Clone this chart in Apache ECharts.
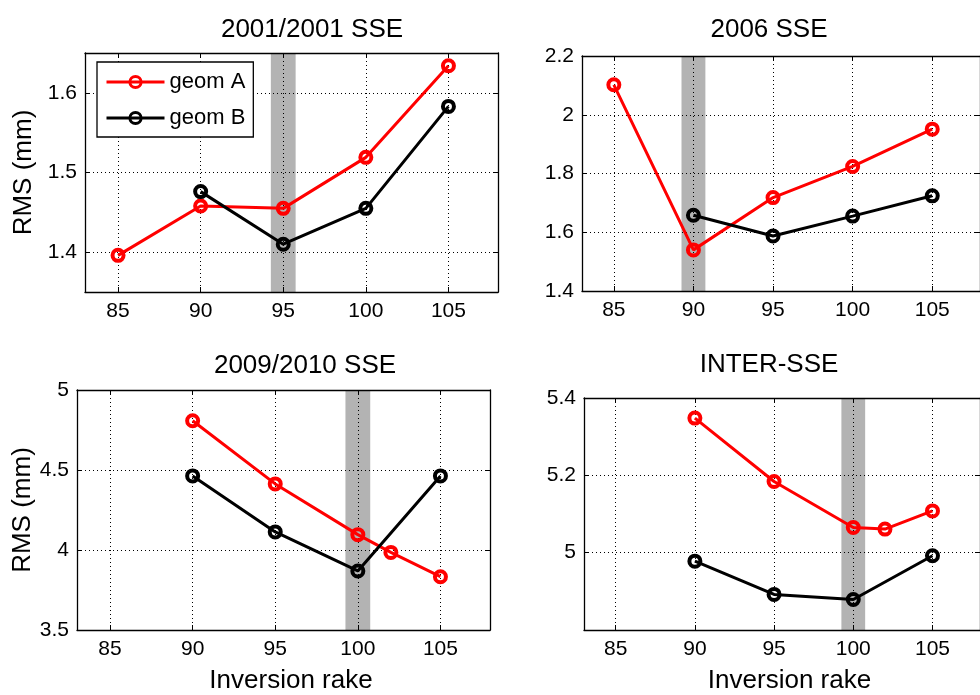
<!DOCTYPE html>
<html>
<head>
<meta charset="utf-8">
<script src="https://cdn.jsdelivr.net/npm/echarts@6/dist/echarts.min.js"></script>
<style>
  html, body { margin: 0; padding: 0; background: #fff; }
  #chart { width: 980px; height: 695px; }
</style>
</head>
<body>
<div id="chart"></div>
<script>
// ---- data ----
const rakeTicks = [85, 90, 95, 100, 105]
const titles = ['2001/2001 SSE', '2006 SSE', '2009/2010 SSE', 'INTER-SSE']

// 2001/2001 SSE
const rakeA1 = [85, 90, 95, 100, 105]
const geomA1 = [1.396, 1.458, 1.455, 1.519, 1.634]
const rakeB1 = [90, 95, 100, 105]
const geomB1 = [1.476, 1.410, 1.455, 1.583]

// 2006 SSE
const rakeA2 = [85, 90, 95, 100, 105]
const geomA2 = [2.102, 1.540, 1.718, 1.824, 1.951]
const rakeB2 = [90, 95, 100, 105]
const geomB2 = [1.658, 1.587, 1.655, 1.724]

// 2009/2010 SSE
const rakeA3 = [90, 95, 100, 102, 105]
const geomA3 = [4.808, 4.413, 4.096, 3.985, 3.833]
const rakeB3 = [90, 95, 100, 105]
const geomB3 = [4.463, 4.113, 3.869, 4.463]

// INTER-SSE
const rakeA4 = [90, 95, 100, 102, 105]
const geomA4 = [5.348, 5.184, 5.065, 5.061, 5.108]
const rakeB4 = [90, 95, 100, 105]
const geomB4 = [4.978, 4.892, 4.879, 4.992]

// best rake (grey band) per panel
const bestRake = [95, 90, 100, 100]
const bandHalf = 0.75

const yMin = [1.35, 1.4, 3.5, 4.8]
const yMax = [1.65, 2.2, 5, 5.4]
const yTicks1 = [1.4, 1.5, 1.6]
const yTicks2 = [1.4, 1.6, 1.8, 2, 2.2]
const yTicks3 = [3.5, 4, 4.5, 5]
const yTicks4 = [5, 5.2, 5.4]

const xMin = 83
const xMax = 108

// ---- layout ----
const FONT = 'Liberation Sans, Arial, Helvetica, sans-serif'
const grids = [
  { left: 85, top: 53, width: 413, height: 239 },
  { left: 582, top: 56, width: 410, height: 235 },
  { left: 77, top: 390, width: 413, height: 240 },
  { left: 584, top: 398, width: 404, height: 236 }
]
const titlePos = [
  { x: 307, y: 12 },
  { x: 764, y: 12 },
  { x: 300, y: 348 },
  { x: 764, y: 347 }
]
const yNameGap = [48, 48, 40, 40]

const panels = [
  { ra: rakeA1, a: geomA1, rb: rakeB1, b: geomB1, yt: yTicks1 },
  { ra: rakeA2, a: geomA2, rb: rakeB2, b: geomB2, yt: yTicks2 },
  { ra: rakeA3, a: geomA3, rb: rakeB3, b: geomB3, yt: yTicks3 },
  { ra: rakeA4, a: geomA4, rb: rakeB4, b: geomB4, yt: yTicks4 }
]

const pairs = (xs, ys) => xs.map((x, i) => [x, ys[i]])

const xAxes = []
const yAxes = []
const series = []

panels.forEach((p, i) => {
  const bottomRow = i >= 2
  const leftCol = i % 2 === 0
  const tickStyle = { show: true, inside: true, length: 5, lineStyle: { color: '#000', width: 1 } }
  const axisLine = { show: true, onZero: false, lineStyle: { color: '#000', width: 1.3 } }
  const grid = { lineStyle: { color: '#000', width: 1, type: [1, 3] } }

  xAxes.push({
    type: 'value', gridIndex: i, min: xMin, max: xMax, position: 'bottom', z: 3,
    axisLine,
    axisTick: { ...tickStyle, customValues: rakeTicks },
    axisLabel: { customValues: rakeTicks, color: '#000', fontSize: 21, fontFamily: FONT, margin: 9 },
    splitLine: { show: true, ...grid },
    name: bottomRow ? 'Inversion rake' : '',
    nameLocation: 'middle', nameGap: 38,
    nameTextStyle: { color: '#000', fontSize: 26, fontFamily: FONT, padding: [0, 0, 0, 15] }
  })
  xAxes.push({
    type: 'value', gridIndex: i, min: xMin, max: xMax, position: 'top', z: 3,
    axisLine,
    axisTick: { ...tickStyle, customValues: rakeTicks },
    axisLabel: { show: false, customValues: rakeTicks },
    splitLine: { show: false }
  })
  yAxes.push({
    type: 'value', gridIndex: i, min: yMin[i], max: yMax[i], position: 'left', z: 3,
    axisLine,
    axisTick: { ...tickStyle, customValues: p.yt },
    axisLabel: { customValues: p.yt, color: '#000', fontSize: 21, fontFamily: FONT, margin: 8 },
    splitLine: { show: true, ...grid },
    name: leftCol ? 'RMS (mm)' : '',
    nameLocation: 'middle', nameRotate: 90, nameGap: yNameGap[i],
    nameTextStyle: { color: '#000', fontSize: 26, fontFamily: FONT }
  })
  yAxes.push({
    type: 'value', gridIndex: i, min: yMin[i], max: yMax[i], position: 'right', z: 3,
    axisLine,
    axisTick: { ...tickStyle, customValues: p.yt },
    axisLabel: { show: false, customValues: p.yt },
    splitLine: { show: false }
  })

  // grey band at the preferred rake
  series.push({
    type: 'line', xAxisIndex: 2 * i, yAxisIndex: 2 * i, data: [], silent: true, z: 1,
    markArea: {
      silent: true,
      itemStyle: { color: '#b3b3b3', opacity: 1 },
      data: [[{ xAxis: bestRake[i] - bandHalf }, { xAxis: bestRake[i] + bandHalf }]]
    }
  })
  const mk = (name, color, data) => ({
    name, type: 'line', xAxisIndex: 2 * i, yAxisIndex: 2 * i, z: 5,
    data,
    symbol: 'circle', symbolSize: 11,
    lineStyle: { color, width: 3 },
    itemStyle: { color: 'rgba(0,0,0,0)', borderColor: color, borderWidth: 4 }
  })
  series.push(mk('geom A', '#ff0000', pairs(p.ra, p.a)))
  series.push(mk('geom B', '#000000', pairs(p.rb, p.b)))
})

const chart = echarts.init(document.getElementById('chart'), null, { renderer: 'canvas' })
chart.setOption({
  animation: false,
  backgroundColor: '#fff',
  textStyle: { fontFamily: FONT },
  title: titles.map((t, i) => ({
    text: t, left: titlePos[i].x, top: titlePos[i].y, textAlign: 'center',
    textStyle: { color: '#000', fontSize: 26, fontWeight: 'normal', fontFamily: FONT }
  })),
  legend: {
    data: ['geom A', 'geom B'],
    orient: 'vertical', left: 97, top: 62,
    backgroundColor: '#fff', borderColor: '#000', borderWidth: 1.3,
    padding: [9, 8, 8, 8],
    itemWidth: 58, itemHeight: 14, itemGap: 14,
    lineStyle: { width: 3 },
    itemStyle: { borderWidth: 3 },
    textStyle: { color: '#000', fontSize: 22, fontFamily: FONT },
    z: 10
  },
  grid: grids.map(g => ({ ...g, containLabel: false, show: false })),
  xAxis: xAxes,
  yAxis: yAxes,
  series
})
</script>
</body>
</html>
